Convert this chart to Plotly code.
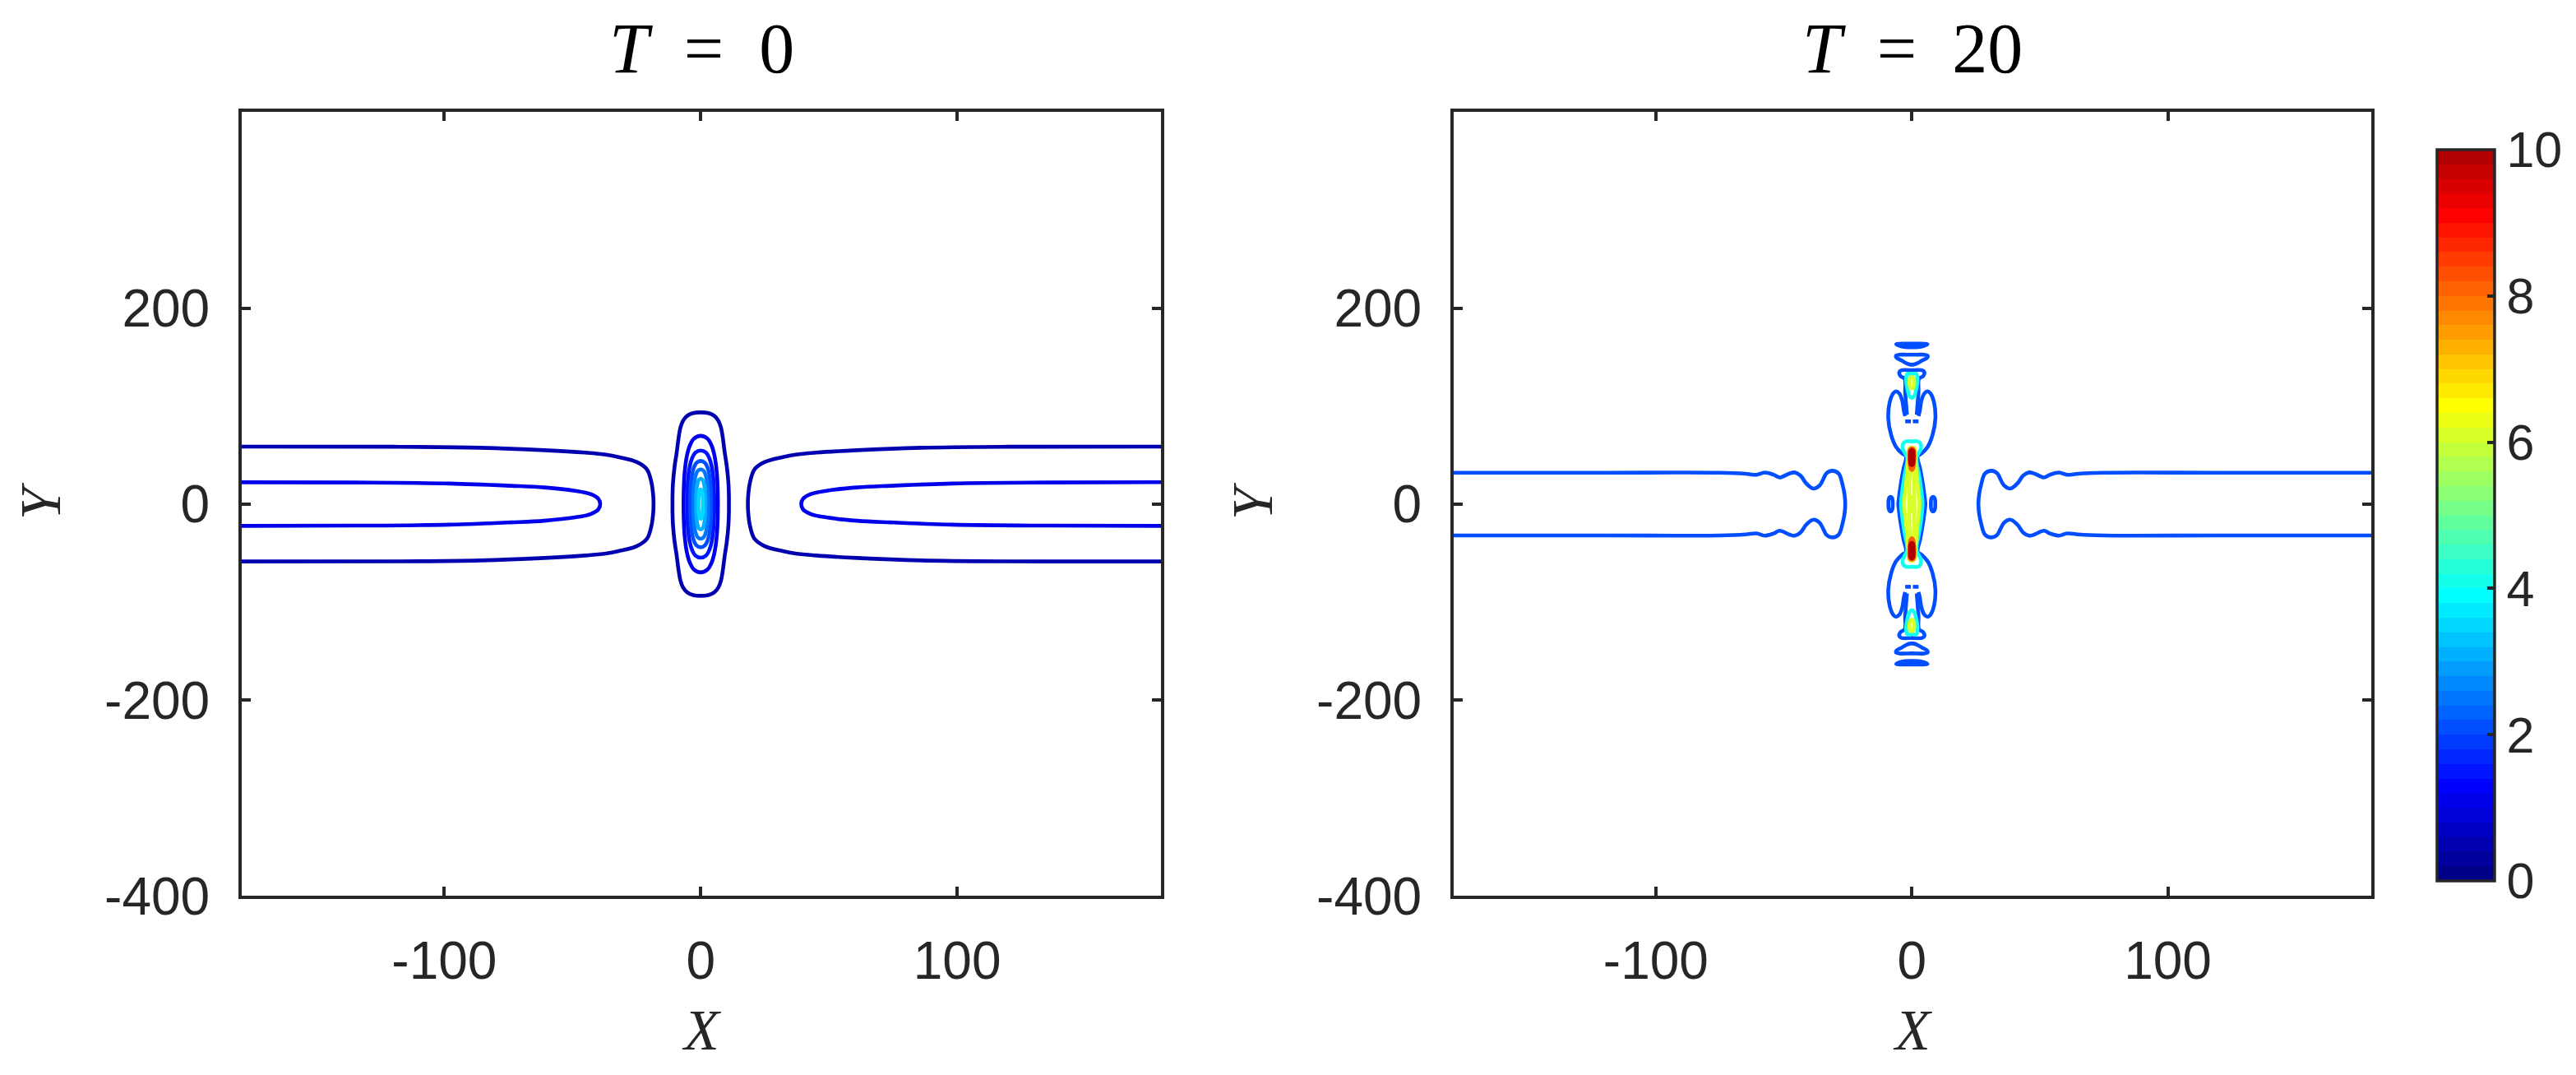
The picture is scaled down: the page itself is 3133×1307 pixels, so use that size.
import numpy as np
import plotly.graph_objects as go

W, H = 3133, 1307

# ------------------------------------------------------------------ data
X_RANGE = [-179.0, 179.5]
Y_RANGE = [-400.0, 400.0]
X_TICKS = [-100, 0, 100]
Y_TICKS = [-400, -200, 0, 200]
CBAR_TICKS = [0, 2, 4, 6, 8, 10]
C_LIM = [0, 10]
PANEL_TITLES = ["<i>T</i>&#8194;=&#8194;0", "<i>T</i>&#8194;=&#8194;20"]

# ---- T = 0 : line-soliton arms (upper half of the left arm, edge -> tip)
T0_ARM_LEVELS = [0.5, 1.0]
T0_ARM_X = [
    [-182, -120, -86, -61, -45, -37, -32, -25, -21, -19.2, -18.5, -18.4],
    [-182, -135, -98, -74, -61, -49, -43, -39.9, -39.2],
]
T0_ARM_Y = [
    [58.6, 58.5, 57.5, 55.0, 52.5, 50.5, 48.0, 43.0, 35.5, 22.0, 8.0, 0.0],
    [22.3, 22.0, 21.0, 18.7, 17.0, 13.6, 10.3, 5.4, 0.0],
]
# ---- T = 0 : central lump (quarter outlines, top -> equator)
T0_LUMP_OUTER_LEVEL = 0.5
T0_LUMP_OUTER_X = [0, 3.0, 5.3, 6.9, 7.9, 8.6, 9.4, 10.2, 10.8, 11.0, 11.0]
T0_LUMP_OUTER_Y = [93.6, 92.8, 90.0, 85.0, 78.0, 68.0, 52.0, 38.0, 22.0, 8.0, 0.0]
T0_LUMP_LEVELS = [1.0, 1.5, 2.0, 2.5, 3.0, 3.5]
T0_LUMP_HALF_W = [6.7, 5.3, 4.1, 2.9, 1.8, 0.85]
T0_LUMP_HALF_H = [69.7, 54.7, 44.1, 35.4, 25.9, 15.0]
LUMP_PROFILE_X = [0.0, 0.39, 0.63, 0.81, 0.94, 0.99, 1.0]
LUMP_PROFILE_Y = [1.0, 0.96, 0.86, 0.70, 0.45, 0.20, 0.0]

# ---- T = 20 : level 2 arms (upper half of left arm, edge -> tip)
T20_ARM_X = [-182, -120, -75, -65, -60.7, -57.5, -54, -51.6, -48, -45.8, -43.5,
             -41.5, -39.5, -38.2, -36, -34.5, -33.4, -31.2, -28.6, -27, -26.3, -26]
T20_ARM_Y = [32, 32, 32, 31, 29.9, 32.2, 30, 27.2, 31, 32.3, 29,
             21.8, 17, 15.8, 19, 26, 31.3, 34, 31.3, 19, 10, 0]
# level 2: spindle + lobes (upper right, equator -> lobe inner tip)
T20_BODY_X = [5.3, 5.1, 4.4, 3.3, 2.3, 3.8, 6.2, 8.1, 9.2, 8.7, 7.3, 6.2, 4.9, 3.8, 3.1, 2.6]
T20_BODY_Y = [0, 5.4, 19, 35.4, 49, 51.7, 58.5, 70.7, 87.1, 103.4, 112.9, 115.1, 112.9, 106.1, 95.2, 89.8]
T20_CAP_X = [0, 4.0, 4.9, 4.4, 2.8, 2.6, 2.2, 1.9]
T20_CAP_Y = [136.6, 136.6, 134.7, 130.6, 127.9, 114.3, 100.7, 91.2]
T20_DASH_X = [0.4, 2.6]
T20_DASH_Y = [84.4, 84.4]
T20_BOWL_X = [0, 5.0, 6.2, 6.0, 4.0, 2.0, 0.5, 0]
T20_BOWL_Y = [152.4, 152.4, 151.5, 149.5, 146.5, 143.5, 142.3, 142.3]
T20_LENS_X = [0, 3.0, 6.1, 4.5, 2.5, 0]
T20_LENS_Y = [163.8, 163.8, 163.0, 161.2, 160.2, 160.0]
T20_BLOB_CX = 8.3
T20_BLOB_X = [0, 0.5, 0.8, 0.85]
T20_BLOB_Y = [7.5, 6.5, 4.0, 0]
# level 4
T20_L4_BODY_X = [0, 2.2, 3.3, 3.6, 2.6, 1.8, 2.0, 2.6, 3.6, 4.1, 4.2]
T20_L4_BODY_Y = [64.0, 64.0, 62.0, 57.1, 51.7, 47.6, 40.0, 32.7, 16.3, 5.0, 0]
T20_L4_TEAR_X = [0, 1.8, 2.2, 2.2, 1.7, 0.9, 0]
T20_L4_TEAR_Y = [132.8, 132.8, 128.0, 125.2, 117.0, 110.2, 108.3]
# level 6
T20_L6_BODY_X = [0, 0.8, 1.2, 1.35, 1.7, 2.2, 2.8, 3.0]
T20_L6_BODY_Y = [57.7, 57.2, 55.8, 46.3, 35.4, 21.8, 8.0, 0]
T20_L6_INNER_X = [0, 0.6, 0.9, 1.0, 1.0]
T20_L6_INNER_Y = [35, 33, 25, 12, 0]
T20_L6_OVAL_CY = 4.8
T20_L6_OVAL_X = [0, 0.5, 0.8]
T20_L6_OVAL_Y = [2.8, 2.2, 0]
T20_L6_TEAR_X = [0, 0.7, 0.95, 0.7, 0]
T20_L6_TEAR_Y = [129.8, 128.5, 124.0, 119.5, 117.8]
# level 8 / 10 (upper blobs; half outlines top -> bottom)
T20_L8_X = [0, 0.8, 1.0, 0.9, 0.6, 0]
T20_L8_Y = [57.0, 55.5, 50.0, 42.0, 37.0, 34.8]
T20_L10_X = [0, 0.6, 0.7, 0.6, 0.35, 0]
T20_L10_Y = [55.5, 54.0, 48.0, 42.0, 40.0, 39.7]


# ------------------------------------------------------------------ colormap (MATLAB jet(50))
def jet_matlab(m):
    n = int(np.ceil(m / 4))
    u = list(np.arange(1, n + 1) / n) + [1.0] * (n - 1) + list(np.arange(n, 0, -1) / n)
    shift = int(np.ceil(n / 2)) - (1 if m % 4 == 1 else 0)
    J = np.zeros((m, 3))
    g_idx = [shift + i + 1 for i in range(len(u))]
    for j, g in enumerate(g_idx):
        if 1 <= g <= m:
            J[g - 1, 1] = u[j]
    r_idx = [g + n for g in g_idx if g + n <= m]
    b_idx = [g - n for g in g_idx if g - n >= 1]
    for j, r in enumerate(r_idx):
        J[r - 1, 0] = u[j]
    for j, b in enumerate(b_idx):
        J[b - 1, 2] = u[len(u) - len(b_idx) + j]
    return J


NCOL = 50
JET = jet_matlab(NCOL)


def rgb(c):
    return "rgb(%d,%d,%d)" % tuple(int(round(v * 255)) for v in c)


def level_color(level):
    k = int(np.floor((level - C_LIM[0]) / (C_LIM[1] - C_LIM[0]) * NCOL + 1e-9))
    k = min(max(k, 0), NCOL - 1)
    return rgb(JET[k])


colorscale = []
for k in range(NCOL):
    colorscale.append([k / NCOL, rgb(JET[k])])
    colorscale.append([(k + 1) / NCOL, rgb(JET[k])])


# ------------------------------------------------------------------ geometry helpers (symmetry only)
def quad_loop(xs, ys, cx=0.0, cy=0.0):
    xs, ys = np.asarray(xs, float), np.asarray(ys, float)
    X = np.concatenate([xs, xs[::-1][1:], -xs[1:], -xs[::-1][1:]]) + cx
    Y = np.concatenate([ys, -ys[::-1][1:], -ys[1:], ys[::-1][1:]]) + cy
    return X, Y


def half_loop(xs, ys, flip=1):
    xs, ys = np.asarray(xs, float), np.asarray(ys, float)
    X = np.concatenate([xs, -xs[::-1][1:]])
    Y = np.concatenate([ys, ys[::-1][1:]]) * flip
    return X, Y


def sym_x(xs, ys, flip=1):
    xs, ys = np.asarray(xs, float), np.asarray(ys, float)
    X = np.concatenate([-xs[::-1], xs[1:]])
    Y = np.concatenate([ys[::-1], ys[1:]]) * flip
    return X, Y


def u_arm(xs, ys, side=1):
    xs, ys = np.asarray(xs, float), np.asarray(ys, float)
    X = np.concatenate([xs, xs[::-1][1:]]) * side
    Y = np.concatenate([ys, -ys[::-1][1:]])
    return X, Y


class Segs:
    def __init__(self):
        self.x, self.y = [], []

    def add(self, X, Y):
        if self.x:
            self.x.append(None)
            self.y.append(None)
        self.x += list(X)
        self.y += list(Y)


LW = 4.6
fig = go.Figure()


def add_level(segs, level, xa, ya):
    fig.add_trace(go.Scatter(
        x=segs.x, y=segs.y, mode="lines", xaxis=xa, yaxis=ya,
        line=dict(color=level_color(level), width=LW, shape="spline", smoothing=1.0),
        hoverinfo="skip", showlegend=False))


# ---------------- panel T = 0
for lev, ax_, ay_ in zip(T0_ARM_LEVELS, T0_ARM_X, T0_ARM_Y):
    s = Segs()
    s.add(*u_arm(ax_, ay_, 1))
    s.add(*u_arm(ax_, ay_, -1))
    if lev == T0_LUMP_OUTER_LEVEL:
        s.add(*quad_loop(T0_LUMP_OUTER_X, T0_LUMP_OUTER_Y))
    else:
        i = T0_LUMP_LEVELS.index(lev)
        s.add(*quad_loop(np.array(LUMP_PROFILE_X) * T0_LUMP_HALF_W[i],
                         np.array(LUMP_PROFILE_Y) * T0_LUMP_HALF_H[i]))
    add_level(s, lev, "x", "y")
for i, lev in enumerate(T0_LUMP_LEVELS):
    if lev in T0_ARM_LEVELS:
        continue
    s = Segs()
    s.add(*quad_loop(np.array(LUMP_PROFILE_X) * T0_LUMP_HALF_W[i],
                     np.array(LUMP_PROFILE_Y) * T0_LUMP_HALF_H[i]))
    add_level(s, lev, "x", "y")

# ---------------- panel T = 20
s = Segs()
s.add(*u_arm(T20_ARM_X, T20_ARM_Y, 1))
s.add(*u_arm(T20_ARM_X, T20_ARM_Y, -1))
bx, by = np.array(T20_BODY_X), np.array(T20_BODY_Y)
for side in (1, -1):
    s.add(np.concatenate([bx[::-1], bx[1:]]) * side, np.concatenate([-by[::-1], by[1:]]))
for flip in (1, -1):
    s.add(*sym_x(T20_CAP_X, T20_CAP_Y, flip))
    for side in (1, -1):
        s.add(np.array(T20_DASH_X) * side, np.array(T20_DASH_Y) * flip)
    s.add(*half_loop(T20_BOWL_X, T20_BOWL_Y, flip))
    s.add(*half_loop(T20_LENS_X, T20_LENS_Y, flip))
for side in (1, -1):
    s.add(*quad_loop(T20_BLOB_X, T20_BLOB_Y, cx=side * T20_BLOB_CX))
add_level(s, 2, "x2", "y2")

s = Segs()
s.add(*quad_loop(T20_L4_BODY_X, T20_L4_BODY_Y))
for flip in (1, -1):
    s.add(*half_loop(T20_L4_TEAR_X, T20_L4_TEAR_Y, flip))
add_level(s, 4, "x2", "y2")

s = Segs()
s.add(*quad_loop(T20_L6_BODY_X, T20_L6_BODY_Y))
s.add(*quad_loop(T20_L6_INNER_X, T20_L6_INNER_Y))
for flip in (1, -1):
    s.add(*quad_loop(T20_L6_OVAL_X, T20_L6_OVAL_Y, cy=flip * T20_L6_OVAL_CY))
    s.add(*half_loop(T20_L6_TEAR_X, T20_L6_TEAR_Y, flip))
add_level(s, 6, "x2", "y2")

s = Segs()
for flip in (1, -1):
    s.add(*half_loop(T20_L8_X, T20_L8_Y, flip))
add_level(s, 8, "x2", "y2")

s = Segs()
for flip in (1, -1):
    s.add(*half_loop(T20_L10_X, T20_L10_Y, flip))
add_level(s, 10, "x2", "y2")

# colour bar carrier
fig.add_trace(go.Scatter(
    x=[None], y=[None], mode="markers", xaxis="x2", yaxis="y2", showlegend=False,
    marker=dict(color=[C_LIM[0]], colorscale=colorscale, cmin=C_LIM[0], cmax=C_LIM[1],
                showscale=True,
                colorbar=dict(
                    thickness=70, thicknessmode="pixels",
                    len=(1094 - 180) / H, lenmode="fraction",
                    x=2956 / W, xanchor="left", y=1 - (178 + 1094) / 2 / H, yanchor="middle",
                    outlinewidth=3.5, outlinecolor="#262626",
                    ticks="inside", ticklen=10, tickwidth=3.5, tickcolor="#262626",
                    tickvals=CBAR_TICKS, ticktext=[str(v) for v in CBAR_TICKS],
                    tickfont=dict(family="Liberation Sans", size=61, color="#262626"),
                    xpad=0, ypad=0))))

# ------------------------------------------------------------------ layout
axis_style = dict(showline=True, linewidth=4, linecolor="#262626", mirror="ticks",
                  ticks="inside", ticklen=11, tickwidth=3.5, tickcolor="#262626",
                  showgrid=False, zeroline=False,
                  tickfont=dict(family="Liberation Sans", size=64, color="#262626"))

AX_L = (286, 1404)
AX_R = (1760, 2876)
AX_Y = (132, 1112)

fig.update_layout(
    width=W, height=H, margin=dict(l=0, r=0, t=0, b=0),
    paper_bgcolor="white", plot_bgcolor="white", showlegend=False,
    xaxis=dict(domain=[AX_L[0] / W, AX_L[1] / W], range=X_RANGE, anchor="y",
               tickvals=X_TICKS, ticktext=[str(v) for v in X_TICKS], ticklabelstandoff=20, **axis_style),
    yaxis=dict(domain=[1 - AX_Y[1] / H, 1 - AX_Y[0] / H], range=Y_RANGE, anchor="x",
               tickvals=Y_TICKS, ticktext=[str(v) for v in Y_TICKS], ticklabelstandoff=22, **axis_style),
    xaxis2=dict(domain=[AX_R[0] / W, AX_R[1] / W], range=X_RANGE, anchor="y2",
                tickvals=X_TICKS, ticktext=[str(v) for v in X_TICKS], ticklabelstandoff=20, **axis_style),
    yaxis2=dict(domain=[1 - AX_Y[1] / H, 1 - AX_Y[0] / H], range=Y_RANGE, anchor="x2",
                tickvals=Y_TICKS, ticktext=[str(v) for v in Y_TICKS], ticklabelstandoff=22, **axis_style),
)

ann = []
for title, (a, b) in zip(PANEL_TITLES, (AX_L, AX_R)):
    cx = (a + b) / 2 / W
    ann.append(dict(text=title, x=cx, y=1 - 52 / H, xref="paper", yref="paper",
                    xanchor="center", yanchor="middle", showarrow=False,
                    font=dict(family="Liberation Serif", size=86, color="black")))
    ann.append(dict(text="<i>X</i>", x=cx, y=1 - 1280 / H, xref="paper", yref="paper",
                    xanchor="center", yanchor="middle", showarrow=False,
                    font=dict(family="Liberation Serif", size=70, color="#262626")))
    ann.append(dict(text="<i>Y</i>", x=(a - 244) / W, y=1 - 618 / H, xref="paper", yref="paper",
                    xanchor="center", yanchor="middle", showarrow=False, textangle=-90,
                    font=dict(family="Liberation Serif", size=70, color="#262626")))
fig.update_layout(annotations=ann)

fig.write_html("out.html", config={"displayModeBar": False})
